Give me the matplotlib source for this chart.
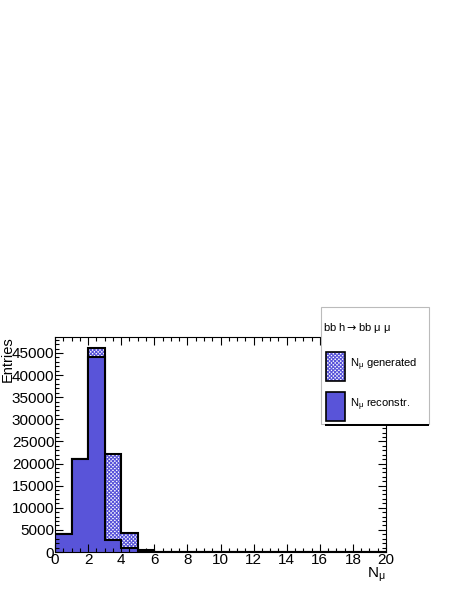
import numpy as np
import matplotlib
matplotlib.use("Agg")
import matplotlib.pyplot as plt
from matplotlib.ticker import AutoMinorLocator, MultipleLocator
from matplotlib.patches import Rectangle

plt.rcParams['font.family'] = ['Liberation Sans', 'DejaVu Sans']
plt.rcParams['mathtext.fontset'] = 'custom'
plt.rcParams['mathtext.rm'] = 'Liberation Sans'
plt.rcParams['mathtext.it'] = 'Liberation Sans'
plt.rcParams['hatch.linewidth'] = 0.8

# data
bin_edges = list(range(0, 21))
generated = [4000, 21000, 46200, 22200, 4400, 400, 80, 0, 0, 0,
             0, 0, 0, 0, 0, 0, 0, 0, 0, 0]
reconstructed = [4000, 21000, 44000, 2700, 800, 200, 50, 0, 0, 0,
                 0, 0, 0, 0, 0, 0, 0, 0, 0, 0]
x_label = "N$_{\\mathrm{μ}}$"
y_label = "Entries"
legend_title = "bb h$\\rightarrow$bb μ μ"
label_gen = "N$_{\\mathrm{μ}}$ generated"
label_rec = "N$_{\\mathrm{μ}}$ reconstr."

blue = '#5954d9'
hatch = 'xxxxxxxxx'
W, H = 463, 599
fig = plt.figure(figsize=(W / 100, H / 100), dpi=100)
ax = fig.add_axes([55 / W, 47 / H, 331 / W, 215 / H])

ax.stairs(generated, bin_edges, fill=True, facecolor='white', edgecolor=blue,
          hatch=hatch, linewidth=0)
ax.stairs(generated, bin_edges, color='black', linewidth=1.5)
ax.stairs(reconstructed, bin_edges, fill=True, facecolor=blue, edgecolor=blue, linewidth=0)
ax.stairs(reconstructed, bin_edges, color='black', linewidth=1.5)

ax.set_xlim(0, 20)
ax.set_ylim(0, 48600)
ax.xaxis.set_major_locator(MultipleLocator(2))
ax.xaxis.set_minor_locator(AutoMinorLocator(4))
ax.yaxis.set_major_locator(MultipleLocator(5000))
ax.yaxis.set_minor_locator(AutoMinorLocator(5))
ax.tick_params(which='both', direction='in', top=True, right=True, labelsize=11,
               width=0.8, color='black')
ax.tick_params(which='major', length=6)
ax.tick_params(which='minor', length=3)
ax.tick_params(axis='x', pad=1)
ax.tick_params(axis='y', pad=0.5)
for s in ax.spines.values():
    s.set_linewidth(0.8)

fig.text(1 / W, 1 - 336 / H, y_label, rotation=90, ha='left', va='top', fontsize=10.5)
fig.text(386 / W, 1 - 566 / H, x_label, ha='right', va='top', fontsize=11)

# legend box (ROOT style)
lx0, lx1, ly0, ly1 = 321, 429, 307, 424
fig.patches.append(Rectangle((lx0 / W, 1 - ly1 / H), (lx1 - lx0) / W, (ly1 - ly0) / H,
                             transform=fig.transFigure, facecolor='white',
                             edgecolor='#bbbbbb', linewidth=0.8, zorder=5))
fig.patches.append(Rectangle((325 / W, 1 - 426 / H), (lx1 - 325) / W, 2 / H,
                             transform=fig.transFigure, facecolor='black',
                             edgecolor='none', zorder=6))
fig.text(323 / W, 1 - 328 / H, legend_title, ha='left', va='center', fontsize=8, zorder=7,
         math_fontfamily='dejavusans')
fig.patches.append(Rectangle((326 / W, 1 - 381 / H), 19 / W, 29 / H,
                             transform=fig.transFigure, facecolor='white',
                             edgecolor=blue, hatch=hatch, linewidth=0, zorder=7))
fig.patches.append(Rectangle((326 / W, 1 - 381 / H), 19 / W, 29 / H,
                             transform=fig.transFigure, facecolor='none',
                             edgecolor='black', linewidth=1.2, zorder=8))
fig.text(350 / W, 1 - 365 / H, label_gen, ha='left', va='center', fontsize=8, zorder=7)
fig.patches.append(Rectangle((326 / W, 1 - 421 / H), 19 / W, 29 / H,
                             transform=fig.transFigure, facecolor=blue,
                             edgecolor='black', linewidth=1.2, zorder=7))
fig.text(350 / W, 1 - 405 / H, label_rec, ha='left', va='center', fontsize=8, zorder=7)

fig.savefig('out.png', dpi=100)
